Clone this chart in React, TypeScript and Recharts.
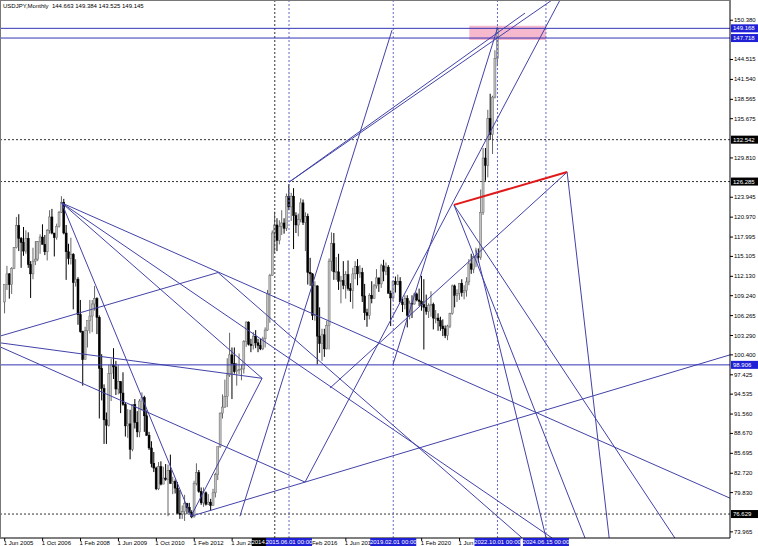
import { Bar, ComposedChart, ReferenceArea, ReferenceLine, XAxis, YAxis } from "recharts";

// USDJPY monthly candles, rows are [open, high, low, close]
const y2005 = [
  [108.3, 110.9, 106.6, 110.9], [110.9, 113.7, 110.1, 112.5], [112.5, 112.6, 108.8, 110.9],
  [110.9, 113.5, 109.5, 113.3], [113.3, 116.5, 113.2, 116.4], [116.4, 121.0, 116.3, 119.7],
  [119.7, 121.4, 115.9, 117.8],
];
const y2006 = [
  [117.8, 118.0, 113.4, 117.2], [117.2, 119.5, 115.2, 115.9], [115.9, 119.0, 115.5, 117.8],
  [117.8, 118.7, 113.4, 113.9], [113.9, 114.4, 108.9, 112.5], [112.5, 116.4, 111.7, 114.4],
  [114.4, 117.4, 113.8, 114.7], [114.7, 117.4, 114.4, 117.3], [117.3, 118.4, 115.5, 118.0],
  [118.0, 119.9, 116.9, 116.9], [116.9, 118.3, 115.3, 115.8], [115.8, 119.2, 114.5, 119.0],
];
const y2007 = [
  [119.0, 122.0, 118.5, 121.0], [121.0, 122.2, 118.4, 118.6], [118.6, 118.6, 115.1, 117.9],
  [117.9, 120.0, 117.6, 119.6], [119.6, 121.9, 119.4, 121.7], [121.7, 124.1, 121.6, 123.2],
  [123.2, 123.7, 118.4, 118.6], [118.6, 119.8, 111.6, 115.8], [115.8, 117.0, 113.9, 114.8],
  [114.8, 117.9, 113.9, 115.4], [115.4, 115.6, 107.2, 111.2], [111.2, 114.7, 110.6, 111.7],
];
const y2008 = [
  [111.7, 112.0, 104.9, 106.4], [106.4, 108.6, 103.7, 103.9], [103.9, 104.0, 95.8, 99.7],
  [99.7, 104.6, 99.8, 104.0], [104.0, 105.5, 101.5, 105.5], [105.5, 108.6, 103.6, 106.2],
  [106.2, 108.6, 103.8, 108.0], [108.0, 110.7, 107.0, 108.8], [108.8, 109.0, 103.5, 106.0],
  [106.0, 106.3, 90.9, 98.4], [98.4, 100.5, 93.6, 95.4], [95.4, 96.0, 87.1, 90.7],
];
const y2009 = [
  [90.7, 91.8, 87.1, 89.9], [89.9, 98.9, 89.7, 97.6], [97.6, 99.8, 93.5, 98.9],
  [98.9, 101.4, 96.8, 98.6], [98.6, 99.5, 94.4, 95.3], [95.3, 98.9, 94.5, 96.4],
  [96.4, 96.5, 91.7, 94.7], [94.7, 97.8, 92.8, 93.0], [93.0, 93.3, 88.2, 89.8],
  [89.8, 92.3, 88.0, 90.1], [90.1, 92.2, 84.8, 86.3], [86.3, 93.0, 86.0, 93.0],
];
const y2010 = [
  [93.0, 93.8, 89.4, 90.3], [90.3, 92.0, 88.1, 88.9], [88.9, 93.8, 88.1, 93.5],
  [93.5, 94.8, 92.1, 94.0], [94.0, 94.3, 88.9, 91.3], [91.3, 92.1, 88.3, 88.4],
  [88.4, 88.9, 86.2, 86.5], [86.5, 87.5, 83.6, 84.2], [84.2, 85.9, 82.9, 83.5],
  [83.5, 83.7, 80.2, 80.4], [80.4, 84.4, 80.2, 83.7], [83.7, 84.5, 80.9, 81.1],
];
const y2011 = [
  [81.1, 83.7, 81.1, 82.0], [82.0, 84.1, 81.6, 81.8], [81.8, 84.0, 76.3, 83.1],
  [83.1, 85.5, 81.2, 81.2], [81.2, 82.2, 79.6, 81.5], [81.5, 81.8, 79.7, 80.5],
  [80.5, 81.4, 76.7, 76.7], [76.7, 80.2, 75.9, 76.6], [76.6, 77.9, 75.9, 77.0],
  [77.0, 79.5, 75.6, 78.2], [78.2, 78.3, 76.6, 77.6], [77.6, 78.3, 76.9, 76.9],
];
const y2012 = [
  [76.9, 77.2, 76.0, 76.2], [76.2, 81.6, 76.1, 81.2], [81.2, 84.2, 80.9, 82.8],
  [82.8, 83.2, 79.8, 80.0], [80.0, 80.6, 78.0, 78.3], [78.3, 80.6, 77.7, 79.8],
  [79.8, 80.0, 77.9, 78.1], [78.1, 79.6, 78.0, 78.4], [78.4, 78.9, 77.1, 77.9],
  [77.9, 80.4, 77.9, 79.8], [79.8, 82.8, 79.1, 82.5], [82.5, 86.6, 81.7, 86.7],
];
const y2013 = [
  [86.7, 91.8, 86.5, 91.7], [91.7, 94.5, 90.9, 92.6], [92.6, 96.7, 92.5, 94.2],
  [94.2, 99.9, 92.6, 97.4], [97.4, 103.7, 97.1, 100.4], [100.4, 101.5, 93.8, 99.1],
  [99.1, 101.5, 97.6, 97.9], [97.9, 99.2, 95.8, 98.1], [98.1, 100.6, 97.5, 98.2],
  [98.2, 99.0, 96.6, 98.3], [98.3, 102.6, 97.6, 102.4], [102.4, 105.4, 101.6, 105.3],
];
const y2014 = [
  [105.3, 105.4, 101.8, 102.0], [102.0, 102.8, 100.8, 101.8], [101.8, 103.8, 101.2, 103.2],
  [103.2, 104.1, 101.4, 102.2], [102.2, 102.8, 100.8, 101.8], [101.8, 102.8, 101.1, 101.3],
  [101.3, 103.1, 101.1, 102.8], [102.8, 104.5, 101.5, 104.1], [104.1, 110.1, 104.0, 109.6],
  [109.6, 112.5, 105.2, 112.3], [112.3, 119.0, 112.2, 118.6], [118.6, 121.8, 115.6, 119.8],
];
const y2015 = [
  [119.8, 120.8, 115.9, 117.5], [117.5, 120.5, 116.9, 119.6], [119.6, 122.0, 118.3, 120.1],
  [120.1, 120.8, 118.5, 119.3], [119.3, 124.5, 118.9, 124.1], [124.1, 125.9, 122.0, 122.5],
  [122.5, 124.6, 120.4, 124.1], [124.1, 125.3, 116.2, 121.2], [121.2, 121.7, 118.6, 119.8],
  [119.8, 121.5, 118.1, 120.6], [120.6, 123.8, 120.2, 123.1], [123.1, 123.6, 119.8, 120.2],
];
const y2016 = [
  [120.2, 121.7, 115.9, 121.1], [121.1, 121.5, 110.9, 112.7], [112.7, 114.9, 110.7, 112.5],
  [112.5, 112.6, 105.6, 106.3], [106.3, 111.4, 105.5, 110.7], [110.7, 110.8, 99.0, 103.2],
  [103.2, 107.5, 100.7, 102.1], [102.1, 104.3, 99.5, 103.4], [103.4, 104.3, 100.1, 101.3],
  [101.3, 105.5, 101.2, 104.8], [104.8, 114.8, 101.2, 114.4], [114.4, 118.7, 112.9, 117.0],
];
const y2017 = [
  [117.0, 118.6, 111.6, 112.8], [112.8, 115.0, 111.6, 112.8], [112.8, 115.5, 110.1, 111.4],
  [111.4, 112.2, 108.1, 111.5], [111.5, 114.4, 110.2, 110.8], [110.8, 112.9, 108.8, 112.4],
  [112.4, 114.5, 110.0, 110.3], [110.3, 111.1, 108.3, 110.0], [110.0, 113.4, 107.3, 112.5],
  [112.5, 114.4, 111.7, 113.6], [113.6, 114.7, 110.8, 112.5], [112.5, 113.8, 111.9, 112.7],
];
const y2018 = [
  [112.7, 113.4, 108.3, 109.2], [109.2, 111.0, 105.6, 106.7], [106.7, 107.3, 104.6, 106.3],
  [106.3, 109.6, 105.7, 109.3], [109.3, 111.4, 108.1, 108.8], [108.8, 111.0, 108.8, 110.7],
  [110.7, 113.2, 110.3, 111.9], [111.9, 111.9, 109.8, 111.0], [111.0, 114.0, 110.4, 113.7],
  [113.7, 114.6, 111.4, 112.9], [112.9, 114.2, 112.3, 113.5], [113.5, 113.8, 109.6, 109.6],
];
const y2019 = [
  [109.6, 110.0, 104.7, 108.9], [108.9, 111.5, 108.5, 111.4], [111.4, 112.1, 109.7, 110.9],
  [110.9, 112.4, 110.8, 111.4], [111.4, 112.0, 108.3, 108.3], [108.3, 108.8, 106.8, 107.9],
  [107.9, 109.3, 107.2, 108.8], [108.8, 109.3, 104.5, 106.3], [106.3, 108.5, 105.7, 108.1],
  [108.1, 109.3, 105.9, 108.0], [108.0, 109.7, 107.9, 109.5], [109.5, 109.7, 108.4, 108.6],
];
const y2020 = [
  [108.6, 110.3, 107.7, 108.4], [108.4, 112.2, 107.0, 107.9], [107.9, 111.7, 101.2, 107.5],
  [107.5, 109.4, 106.4, 106.9], [106.9, 108.1, 105.9, 107.8], [107.8, 109.9, 106.1, 107.9],
  [107.9, 108.2, 104.2, 105.9], [105.9, 107.1, 105.1, 105.9], [105.9, 106.6, 104.0, 105.5],
  [105.5, 106.1, 104.0, 104.7], [104.7, 105.7, 103.2, 104.3], [104.3, 104.8, 102.9, 103.3],
];
const y2021 = [
  [103.3, 104.9, 102.6, 104.7], [104.7, 106.7, 104.4, 106.6], [106.6, 110.9, 106.4, 110.7],
  [110.7, 110.9, 107.5, 109.3], [109.3, 110.2, 108.3, 109.6], [109.6, 111.1, 108.6, 111.1],
  [111.1, 111.7, 109.1, 109.7], [109.7, 110.8, 108.7, 110.0], [110.0, 112.0, 109.1, 111.3],
  [111.3, 114.7, 110.8, 114.0], [114.0, 115.5, 112.5, 113.2], [113.2, 115.2, 112.6, 115.1],
];
const y2022 = [
  [115.1, 116.4, 113.5, 115.1], [115.1, 116.3, 114.2, 115.0], [115.0, 125.1, 114.6, 121.7],
  [121.7, 131.3, 121.3, 129.8], [129.8, 131.3, 126.4, 128.7], [128.7, 137.0, 126.9, 135.7],
  [135.7, 139.4, 132.5, 133.3], [133.3, 139.1, 130.4, 138.9], [138.9, 145.9, 138.7, 144.7],
  [144.663, 149.384, 143.525, 149.145],
];

// [year, first month (0 = Jan), rows]
const years: [number, number, number[][]][] = [
  [2005, 5, y2005], [2006, 0, y2006], [2007, 0, y2007], [2008, 0, y2008], [2009, 0, y2009],
  [2010, 0, y2010], [2011, 0, y2011], [2012, 0, y2012], [2013, 0, y2013], [2014, 0, y2014],
  [2015, 0, y2015], [2016, 0, y2016], [2017, 0, y2017], [2018, 0, y2018], [2019, 0, y2019],
  [2020, 0, y2020], [2021, 0, y2021], [2022, 0, y2022],
];

// time labels that are not fully covered by the marker tags
const timeLabels = [
  "1 Jun 2005", "1 Oct 2006", "1 Feb 2008", "1 Jun 2009", "1 Oct 2010", "1 Feb 2012",
  "1 Jun 2013", "1 Feb 2016", "1 Jun 2017", "1 Feb 2020", "1 Jun 2021",
];
const priceTicks = [
  150.38, 144.515, 141.54, 138.565, 135.675, 129.81, 123.945, 120.97, 117.995, 115.105, 112.13,
  109.24, 106.265, 103.29, 100.4, 97.425, 94.535, 91.56, 88.67, 85.695, 82.72, 79.83, 73.965,
];

// horizontal levels
const solidLevels = [149.168, 147.718, 98.906];
const dottedLevels = [132.542, 126.285, 76.629];
// vertical time markers
const blackMarkers = ["2014.12.01 00:00"];
const blueMarkers = ["2015.06.01 00:00", "2019.02.01 00:00", "2022.10.01 00:00", "2024.06.15 00:00"];

// trend lines: [time1, price1, time2, price2] (time in decimal years)
const trendLines = [
  [2007.42, 123.1, 2030.93, 79.0],
  [2007.42, 123.1, 2014.47, 96.9],
  [2007.42, 123.1, 2011.97, 76.3],
  [2007.42, 123.1, 2024.67, 73.05],
  [2005.25, 103.2, 2012.92, 112.7],
  [2012.92, 112.7, 2023.62, 73.05],
  [2005.25, 102.2, 2014.47, 96.9],
  [2005.25, 101.6, 2015.98, 81.4],
  [2011.97, 76.3, 2030.93, 100.4],
  [2015.98, 81.4, 2024.95, 153.4],
  [2011.97, 76.3, 2014.47, 96.9],
  [2013.69, 76.3, 2019.04, 148.9],
  [2015.42, 126.2, 2023.72, 151.45],
  [2015.42, 126.2, 2024.67, 153.4],
  [2019.07, 98.9, 2022.75, 149.2],
  [2025.2, 127.7, 2026.68, 73.05],
  [2025.2, 127.7, 2016.86, 95.45],
  [2021.22, 122.8, 2025.83, 73.05],
  [2021.22, 122.8, 2028.99, 73.05],
  [2021.99, 116.1, 2024.46, 73.05],
];
const redLine = [2021.22, 122.8, 2025.2, 127.7];
const box = [2021.76, 149.56, 2024.46, 147.42];

const monthNames = ["Jan", "Feb", "Mar", "Apr", "May", "Jun", "Jul", "Aug", "Sep", "Oct", "Nov", "Dec"];
const fromLabel = (s: string) => {
  const [, mon, yr] = s.split(" ");
  return Number(yr) + monthNames.indexOf(mon) / 12;
};
const fromStamp = (s: string) => {
  const [y, m, d] = s.split(" ")[0].split(".").map(Number);
  return y + (m - 1) / 12 + (d - 1) / 30 / 12;
};

const candles = years.flatMap(([yr, m0, rows]) =>
  rows.map((r, i) => ({ t: yr + (m0 + i) / 12, o: r[0], h: r[1], l: r[2], c: r[3], range: [r[2], r[1]] }))
);
const markerStamps = [...blackMarkers, ...blueMarkers];
// time labels first, marker tags after them so the tags are painted on top
const axisTicks = [...timeLabels.map(fromLabel), ...markerStamps.map(fromStamp)];

const FONT = "Liberation Sans, Arial, sans-serif";
const LINE = "#4242a8";
const BLUE = "#2020d6";

function Candle(props: any) {
  const { x, y, width, height, payload } = props;
  if (!payload || height == null) return null;
  const { o, h, l, c } = payload;
  const cx = x + width / 2;
  const py = (v: number) => y + ((h - v) / (h - l || 1)) * height;
  const top = py(Math.max(o, c));
  const bot = py(Math.min(o, c));
  const up = c >= o;
  return (
    <g>
      <line x1={cx} x2={cx} y1={y} y2={y + height} stroke={up ? "#666" : "#000"} strokeWidth={1} />
      <rect
        x={cx - 1}
        y={top}
        width={2}
        height={Math.max(bot - top, 0.8)}
        fill={up ? "#c2c2c2" : "#000"}
        stroke={up ? "#666" : "#000"}
        strokeWidth={0.5}
      />
    </g>
  );
}

function TimeTick(props: any) {
  const { x, y, index } = props;
  if (index < timeLabels.length) {
    return (
      <g>
        <line x1={x} x2={x} y1={y} y2={y + 3} stroke="#000" />
        <text x={x - 1} y={y + 6.5} fontSize={6} fontFamily={FONT} fill="#000">
          {timeLabels[index]}
        </text>
      </g>
    );
  }
  const k = index - timeLabels.length;
  const fill = k < blackMarkers.length ? "#000" : BLUE;
  return (
    <g>
      <rect x={x - 23} y={y} width={46} height={8} fill={fill} />
      <text x={x} y={y + 6.3} fontSize={6} fontFamily={FONT} fill="#fff" textAnchor="middle">
        {markerStamps[k]}
      </text>
    </g>
  );
}

function PriceTick(props: any) {
  const { x, y, payload } = props;
  return (
    <g>
      <line x1={x} x2={x + 3} y1={y} y2={y} stroke="#000" />
      <text x={x + 4} y={y + 2} fontSize={6} fontFamily={FONT} fill="#000">
        {payload.value.toFixed(3)}
      </text>
    </g>
  );
}

const priceTag = (text: string, fill: string) => (p: any) => {
  const vb = p.viewBox;
  const x = vb.x + vb.width + 1;
  return (
    <g>
      <rect x={x} y={vb.y - 4} width={27} height={8} fill={fill} />
      <text x={x + 2} y={vb.y + 2} fontSize={6} fontFamily={FONT} fill="#fff">
        {text}
      </text>
    </g>
  );
};

export default function App() {
  return (
    <div style={{ position: "absolute", left: 0, top: 0, width: 758, height: 546, background: "#fff" }}>
      <ComposedChart width={758} height={546} data={candles} margin={{ top: 0, right: 0, bottom: 0, left: 0 }}>
        <XAxis
          dataKey="t"
          type="number"
          domain={[2005.25, 2030.93]}
          allowDataOverflow
          ticks={axisTicks}
          interval={0}
          height={8}
          tickSize={0}
          tickMargin={0}
          tick={<TimeTick />}
          axisLine={{ stroke: "#000" }}
        />
        <YAxis
          orientation="right"
          type="number"
          domain={[73.05, 153.4]}
          allowDataOverflow
          ticks={priceTicks}
          interval={0}
          width={28}
          tickSize={0}
          tickMargin={0}
          tick={<PriceTick />}
          axisLine={{ stroke: "#000" }}
        />
        <ReferenceArea x1={box[0]} x2={box[2]} y1={box[3]} y2={box[1]} fill="#f6b8cd" fillOpacity={1} stroke="none" />
        {dottedLevels.map((v) => (
          <ReferenceLine key={"d" + v} y={v} stroke="#333" strokeDasharray="2 2" label={priceTag(v.toFixed(3), "#000")} />
        ))}
        {blackMarkers.map((s) => (
          <ReferenceLine key={s} x={fromStamp(s)} stroke="#333" strokeDasharray="2 2" />
        ))}
        {blueMarkers.map((s) => (
          <ReferenceLine key={s} x={fromStamp(s)} stroke="#6666cc" strokeDasharray="2 2" />
        ))}
        <Bar dataKey="range" shape={<Candle />} barSize={2} isAnimationActive={false} />
        {trendLines.map((s, i) => (
          <ReferenceLine
            key={"t" + i}
            segment={[{ x: s[0], y: s[1] }, { x: s[2], y: s[3] }]}
            stroke={LINE}
            strokeWidth={1}
            ifOverflow="hidden"
          />
        ))}
        <ReferenceLine
          segment={[{ x: redLine[0], y: redLine[1] }, { x: redLine[2], y: redLine[3] }]}
          stroke="#e01a1a"
          strokeWidth={2}
          ifOverflow="hidden"
        />
        {solidLevels.map((v) => (
          <ReferenceLine key={"s" + v} y={v} stroke="#3434b4" label={priceTag(v.toFixed(3), BLUE)} />
        ))}
      </ComposedChart>
      <div
        style={{
          position: "absolute",
          left: 0,
          top: 0,
          width: 730,
          height: 538,
          borderLeft: "1px solid #777",
          borderTop: "1px solid #777",
          boxSizing: "border-box",
          pointerEvents: "none",
        }}
      />
      <div style={{ position: "absolute", left: 3, top: 3, fontSize: 6, fontFamily: FONT, color: "#000", whiteSpace: "pre" }}>
        {"USDJPY,Monthly  144.663 149.384 143.525 149.145"}
      </div>
    </div>
  );
}
